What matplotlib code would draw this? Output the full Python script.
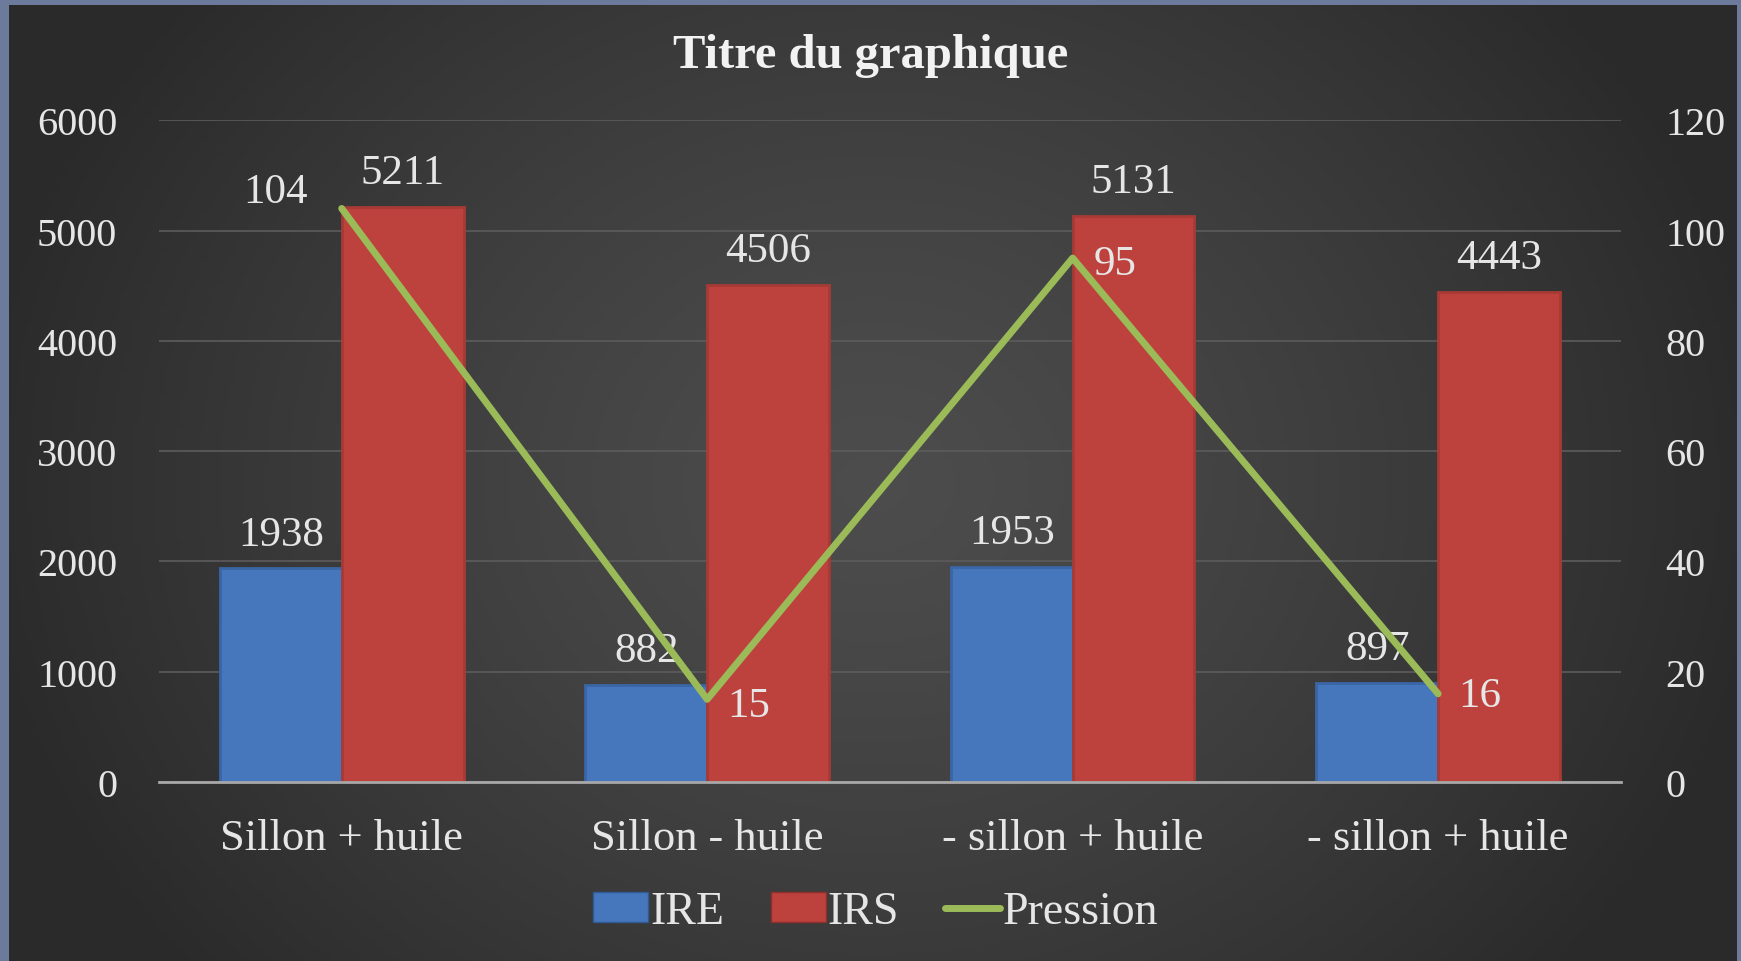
import matplotlib.pyplot as plt
import matplotlib.patches as mpatches
from matplotlib.lines import Line2D
import numpy as np

categories = ["Sillon + huile", "Sillon - huile", "- sillon + huile", "- sillon + huile"]
ire = [1938, 882, 1953, 897]
irs = [5211, 4506, 5131, 4443]
pression = [104, 15, 95, 16]

plt.rcParams['font.family'] = ['Liberation Serif', 'DejaVu Serif']
txt = '#e6e6e6'

fig = plt.figure(figsize=(17.41, 9.62), dpi=100)
fig.patch.set_facecolor('#6c7a9b')

# dark radial background inside the blue frame
bg = fig.add_axes([9/1741, 0, (1741-13)/1741, 1-6/962], zorder=-10)
gx, gy = np.meshgrid(np.linspace(-1, 1, 400), np.linspace(-1, 1, 240))
r = np.clip(np.sqrt((gx/1.05)**2 + (gy/1.6)**2), 0, 1)
shade = 0.30 - 0.135*r**1.3
bg.imshow(np.dstack([shade, shade, shade]), aspect='auto', extent=[0, 1, 0, 1])
bg.axis('off')

ax = fig.add_axes([0.0913, 0.186, 0.8397, 0.688])
ax.set_facecolor('none')
ax2 = ax.twinx()

x = np.arange(len(categories))
w = 1/3
b1 = ax.bar(x - w/2, ire, w, color='#4677bd', edgecolor='#3a66a6', linewidth=2, label='IRE', zorder=2)
b2 = ax.bar(x + w/2, irs, w, color='#bd423d', edgecolor='#a83a36', linewidth=2, label='IRS', zorder=2)
for rects in (b1, b2):
    for rect in rects:
        h = rect.get_height()
        ax.annotate(f"{h}", (rect.get_x() + rect.get_width()/2, h), xytext=(0, 34),
                    textcoords='offset pixels', ha='center', va='center', fontsize=31, color=txt, zorder=5)

ax.set_ylim(0, 6000)
ax.set_yticks(range(0, 6001, 1000))
ax.set_xlim(-0.5, len(categories) - 0.5)
ax.set_xticks(x)
ax.set_xticklabels(categories)
ax.grid(axis='y', color='#5c5c5c', linewidth=1.2, zorder=0)
ax.set_axisbelow(True)
ax.tick_params(axis='x', length=0, pad=26, labelsize=32, labelcolor=txt)
ax.tick_params(axis='y', length=0, pad=30, labelsize=29, labelcolor=txt)
for s in ['top', 'right', 'left']:
    ax.spines[s].set_visible(False)
ax.spines['bottom'].set_color('#a8a8a8')
ax.spines['bottom'].set_linewidth(2)

ax2.plot(x, pression, color='#9bbb59', linewidth=5, solid_capstyle='round', zorder=4, label='Pression')
ax2.set_ylim(0, 120)
ax2.set_yticks(range(0, 121, 20))
ax2.tick_params(axis='y', length=0, pad=32, labelsize=29, labelcolor=txt)
for s in ax2.spines.values():
    s.set_visible(False)
offsets = [(-66, 17), (42, -6), (42, -6), (42, -2)]
for xi, v, off in zip(x, pression, offsets):
    ax2.annotate(f"{v}", (xi, v), xytext=off, textcoords='offset pixels',
                 ha='center', va='center', fontsize=31, color=txt, zorder=6)

fig.text(0.5, 0.942, "Titre du graphique", ha='center', va='center', fontsize=35,
         fontweight='bold', color='#f2f2f2')

handles = [mpatches.Patch(facecolor='#4677bd', edgecolor='#2f5a94', label='IRE'),
           mpatches.Patch(facecolor='#bd423d', edgecolor='#8f2f2c', label='IRS'),
           Line2D([0], [0], color='#9bbb59', linewidth=5, solid_capstyle='round', label='Pression')]
fig.legend(handles=handles, loc='center', bbox_to_anchor=(0.503, 0.051), ncol=3, frameon=False,
           fontsize=33, labelcolor=txt, handlelength=1.2, handleheight=0.6,
           handletextpad=0.05, columnspacing=1.0)

plt.savefig('out.png', dpi=100, facecolor=fig.get_facecolor())
